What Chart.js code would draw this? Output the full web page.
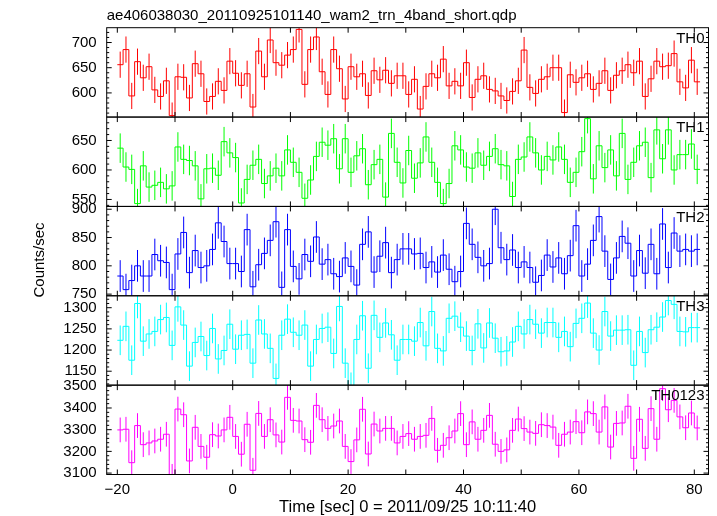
<!DOCTYPE html>
<html><head><meta charset="utf-8">
<script src="https://cdn.jsdelivr.net/npm/chart.js@4.4.1/dist/chart.umd.min.js"></script>
<style>html,body{margin:0;padding:0;background:#fff;}canvas{display:block;}</style>
</head><body>
<canvas id="c" width="717" height="516"></canvas>
<script>
// ---------- text ----------
const titleText = "ae406038030_20110925101140_wam2_trn_4band_short.qdp";
const xTitle = "Time [sec] 0 = 2011/09/25 10:11:40";
const yTitle = "Counts/sec";
const panelNames = ["TH0", "TH1", "TH2", "TH3", "TH0123"];
const panelColors = ["#ff0000", "#00ff00", "#0000ff", "#00ffff", "#ff00ff"];

// ---------- binning ----------
const binStart = -20;   // left edge of first bin [sec]
const binWidth = 1;     // bin width [sec]

// ---------- series (counts/sec per bin) ----------
const th0 = [656,686,594,662,630,652,606,593,624,555,632,631,590,658,638,583,593,623,605,663,639,
615,638,572,683,632,705,660,655,675,686,726,617,686,711,642,597,686,648,588,652,632,638,595,644,626,645,619,634,634,597,
627,568,613,638,630,667,614,623,614,660,591,627,634,607,604,594,585,603,624,685,611,599,627,632,650,650,561,636,621,630,638,607,619,644,605,635,644,656,640,663,593,628,663,652,654,678,622,610,665,622];
const th1 = [637,605,601,543,607,571,574,579,568,573,639,618,616,607,551,602,603,591,648,629,621,544,584,608,618,577,590,603,590,634,613,596,552,583,623,647,642,653,602,653,596,624,636,575,609,618,554,662,613,578,
633,586,612,656,613,579,543,577,641,634,605,603,629,608,623,636,609,607,555,618,622,656,629,600,623,617,639,618,579,596,631,687,585,641,604,634,590,662,584,613,641,647,587,668,619,668,600,626,626,644,601];
const th2 = [782,758,774,800,782,782,820,809,806,758,821,859,788,827,797,800,829,876,843,804,804,790,864,763,802,822,845,878,762,864,799,777,820,808,851,803,811,786,781,814,799,766,838,860,789,817,841,788,811,830,
830,821,822,797,807,789,819,794,772,790,875,838,815,800,804,900,832,811,828,797,807,797,771,783,819,798,814,786,818,871,782,803,845,887,826,776,814,852,840,782,827,787,838,786,874,797,858,826,829,826,829];
const th3 = [1223,1256,1176,1310,1221,1238,1244,1272,1277,1211,1302,1259,1162,1218,1232,1187,1251,1179,1199,1261,1202,1235,1237,1169,1271,1238,1204,1133,1235,1273,1242,1235,1259,1162,1225,1251,1254,1192,1303,1169,1112,1225,1281,1157,1282,1230,1264,1236,1176,1225,
1225,1221,1265,1210,1291,1204,1198,1275,1280,1254,1233,1199,1262,1205,1264,1228,1196,1198,1219,1256,1238,1272,1261,1240,1265,1265,1230,1244,1208,1263,1275,1311,1240,1200,1291,1233,1247,1247,1248,1164,1244,1194,1248,1254,1278,1317,1308,1244,1243,1253,1253];
const th0123 = [3299,3302,3148,3319,3231,3239,3248,3256,3279,3085,3395,3369,3156,3311,3223,3173,3277,3271,3299,3357,3269,3187,3325,3113,3375,3269,3346,3276,3243,3449,3343,3340,3254,3242,3412,3346,3306,3317,3340,3223,3153,3253,3394,3188,3326,3294,3306,3306,3239,3269,
3282,3256,3269,3274,3352,3205,3228,3263,3294,3374,3231,3336,3256,3297,3366,3233,3200,3207,3297,3349,3305,3289,3283,3323,3319,3312,3228,3279,3289,3337,3286,3382,3374,3289,3405,3220,3329,3331,3408,3168,3348,3214,3397,3256,3489,3392,3435,3359,3309,3377,3308];

// typical error-bar half lengths read per panel
const errTH0 = 26, errTH1 = 25, errTH2 = 28, errTH3 = 35, errTH0123 = 57;

// ---------- axes ----------
const xRange = [-21.84, 82.46];
const xTickLabels = [-20, 0, 20, 40, 60, 80];
const xTickMarkStep = 10;
const yTicksTH0 = [600, 650, 700];
const yTicksTH1 = [550, 600, 650];
const yTicksTH2 = [750, 800, 850, 900];
const yTicksTH3 = [1150, 1200, 1250, 1300];
const yTicksTH0123 = [3100, 3200, 3300, 3400, 3500];
const yRangeTH0 = [552.1, 729.4];
const yRangeTH1 = [538.2, 689.7];
const yRangeTH2 = [747.1, 905.0];
const yRangeTH3 = [1117.1, 1328.2];
const yRangeTH0123 = [3093.5, 3505.3];
const yMajorSteps = [50, 50, 50, 50, 100];
const yMinorSteps = [10, 10, 10, 10, 20];

const panels = [
  {vals: th0, err: errTH0, ticks: yTicksTH0, range: yRangeTH0},
  {vals: th1, err: errTH1, ticks: yTicksTH1, range: yRangeTH1},
  {vals: th2, err: errTH2, ticks: yTicksTH2, range: yRangeTH2},
  {vals: th3, err: errTH3, ticks: yTicksTH3, range: yRangeTH3},
  {vals: th0123, err: errTH0123, ticks: yTicksTH0123, range: yRangeTH0123}
];

const FONT = '"Liberation Sans", Arial, Helvetica, sans-serif';
Chart.defaults.font.family = FONT;
Chart.defaults.font.size = 15;
Chart.defaults.color = '#000';

function fmtNum(v) { return v < 0 ? '\u2212' + Math.abs(v) : String(v); }

function stepPoints(vals) {
  const pts = vals.map((v, i) => ({x: binStart + i * binWidth, y: v}));
  pts.push({x: binStart + vals.length * binWidth, y: vals[vals.length - 1]});
  return pts;
}
function errPoints(vals, err) {
  const pts = [];
  vals.forEach((v, i) => {
    const xc = binStart + (i + 0.5) * binWidth;
    pts.push({x: xc, y: v - err}, {x: xc, y: v + err}, {x: xc, y: null});
  });
  return pts;
}

const datasets = [];
panels.forEach((p, i) => {
  datasets.push({
    label: panelNames[i], data: stepPoints(p.vals), yAxisID: 'y' + i, xAxisID: 'x',
    stepped: true, borderColor: panelColors[i], borderWidth: 1, pointRadius: 0,
    fill: false, order: 0, spanGaps: false
  });
  datasets.push({
    label: panelNames[i] + ' err', data: errPoints(p.vals, p.err), yAxisID: 'y' + i, xAxisID: 'x',
    borderColor: panelColors[i], borderWidth: 1, pointRadius: 0,
    fill: false, order: 1, spanGaps: false
  });
});

const scales = {
  x: {
    type: 'linear', position: 'bottom', min: xRange[0], max: xRange[1],
    afterBuildTicks: s => { s.ticks = xTickLabels.map(v => ({value: v})); },
    afterFit: s => { s.height = 41.5; },
    ticks: {callback: v => fmtNum(v), padding: 6, maxRotation: 0, autoSkip: false, color: '#000', font: {size: 15}},
    grid: {display: false, drawTicks: false}, border: {display: false}
  }
};
for (let i = panels.length - 1; i >= 0; i--) {
  const p = panels[i];
  scales['y' + i] = {
    type: 'linear', position: 'left', stack: 'panels', stackWeight: 1,
    min: p.range[0], max: p.range[1],
    afterBuildTicks: s => { s.ticks = p.ticks.map(v => ({value: v})); },
    afterFit: s => { s.width = 106.7; },
    ticks: {callback: v => fmtNum(v), padding: 10, autoSkip: false, color: '#000', font: {size: 15}},
    grid: {display: false, drawTicks: false}, border: {display: false}
  };
}

const framePlugin = {
  id: 'qdpFrame',
  beforeDatasetDraw(chart, args) {
    const ds = chart.data.datasets[args.index];
    const s = chart.scales[ds.yAxisID];
    const a = chart.chartArea;
    const ctx = chart.ctx;
    ctx.save();
    ctx.beginPath();
    ctx.rect(a.left, s.top, a.right - a.left, s.bottom - s.top);
    ctx.clip();
  },
  afterDatasetDraw(chart) { chart.ctx.restore(); },
  afterDraw(chart) {
    const ctx = chart.ctx, a = chart.chartArea, xs = chart.scales.x;
    ctx.save();
    ctx.strokeStyle = '#000';
    ctx.lineWidth = 1;
    for (let i = 0; i < panels.length; i++) {
      const s = chart.scales['y' + i];
      ctx.strokeRect(a.left, s.top, a.right - a.left, s.bottom - s.top);
      ctx.beginPath();
      for (let v = Math.ceil(xRange[0] / xTickMarkStep) * xTickMarkStep; v <= xRange[1]; v += xTickMarkStep) {
        const px = xs.getPixelForValue(v);
        ctx.moveTo(px, s.top); ctx.lineTo(px, s.top + 5);
        ctx.moveTo(px, s.bottom); ctx.lineTo(px, s.bottom - 5);
      }
      const mn = yMinorSteps[i], mj = yMajorSteps[i];
      for (let v = Math.ceil(s.min / mn) * mn; v <= s.max; v += mn) {
        const py = s.getPixelForValue(v);
        const len = (Math.abs(v % mj) < 1e-6) ? 5 : 2.5;
        ctx.moveTo(a.left, py); ctx.lineTo(a.left + len, py);
        ctx.moveTo(a.right, py); ctx.lineTo(a.right - len, py);
      }
      ctx.stroke();
      ctx.fillStyle = '#000';
      ctx.font = '15px ' + FONT;
      ctx.textAlign = 'right';
      ctx.textBaseline = 'middle';
      ctx.fillText(panelNames[i], a.right - 4, s.top + 11);
    }
    ctx.fillStyle = '#000';
    ctx.font = '15px ' + FONT;
    ctx.textAlign = 'left';
    ctx.textBaseline = 'alphabetic';
    ctx.fillText(titleText, a.left, 19.5);
    ctx.textAlign = 'center';
    ctx.textBaseline = 'middle';
    ctx.font = '16.5px ' + FONT;
    ctx.fillText(xTitle, (a.left + a.right) / 2, 507);
    ctx.font = '15px ' + FONT;
    ctx.translate(40, 260);
    ctx.rotate(-Math.PI / 2);
    ctx.fillText(yTitle, 0, 0);
    ctx.restore();
  }
};

new Chart(document.getElementById('c'), {
  type: 'line',
  data: {datasets},
  options: {
    responsive: false, animation: false, devicePixelRatio: 1, events: [],
    layout: {padding: {left: 0, top: 27.7, right: 8.5, bottom: 0}},
    plugins: {legend: {display: false}, tooltip: {enabled: false}, title: {display: false}},
    elements: {line: {tension: 0}},
    scales
  },
  plugins: [framePlugin]
});
</script>
</body></html>
